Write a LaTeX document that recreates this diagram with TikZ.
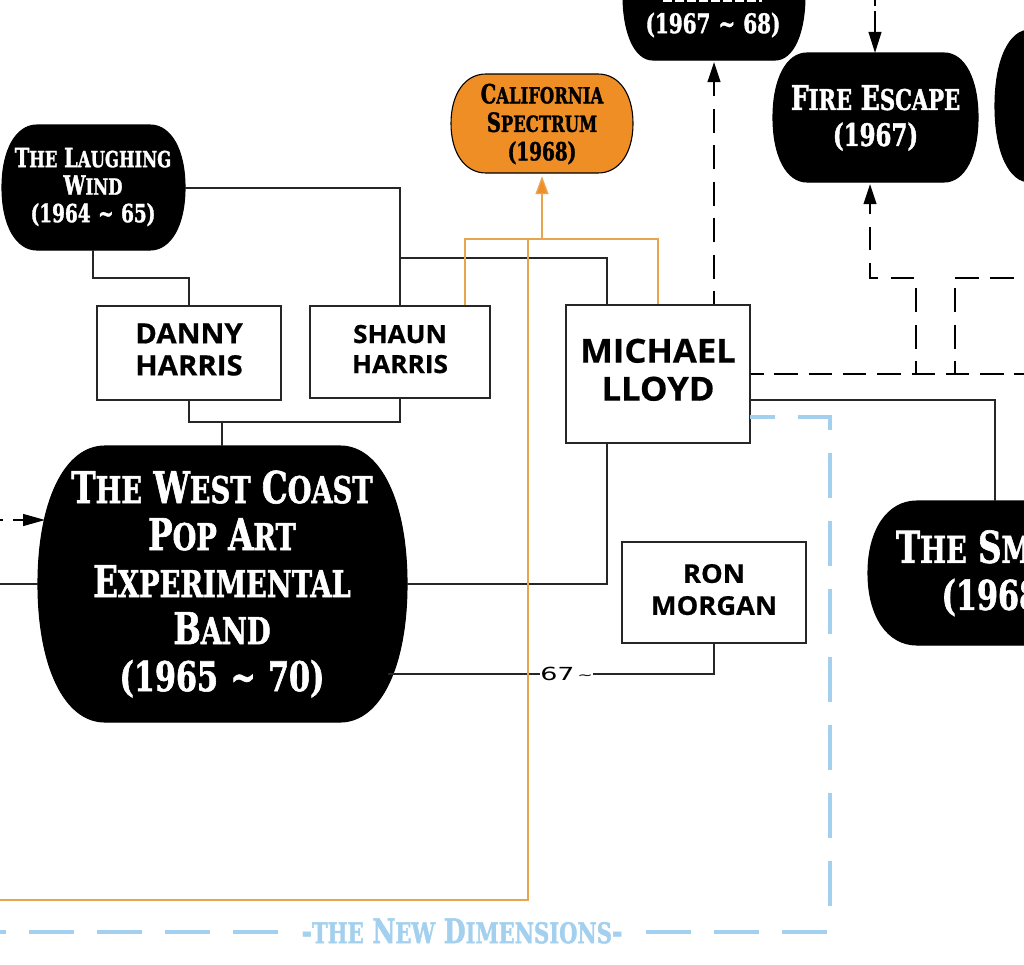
\documentclass[tikz,border=0pt]{standalone}
\usepackage{fontspec}
\usetikzlibrary{arrows.meta,calc}
\newfontfamily\slab{DejaVu Serif Condensed Bold}[FakeStretch=0.82,FakeBold=1.4]
\newfontfamily\slabS{DejaVu Serif Condensed Bold}[FakeStretch=0.82,FakeBold=1.4,Scale=0.84]
\newfontfamily\comicf{Open Sans}[FakeStretch=1.05,FakeBold=0.6]
\newcommand\comic{\comicf\bfseries}
\newfontfamily\tagf{DejaVu Sans}[FakeStretch=1.5]
\newcommand\Sc[2]{#1{\slabS #2}}
\newcommand\tl{\hspace{.3em}{\char"7E}\hspace{.3em}}
\newcommand\lift[2]{\raisebox{#1}{\begin{tabular}{@{}c@{}}#2\end{tabular}}}
\newcommand\sz[2]{\fontsize{#1}{#2}\selectfont}
\definecolor{orangeline}{HTML}{E8A44F}
\definecolor{orangefill}{HTML}{EE8E25}
\definecolor{blueline}{HTML}{A3D0EE}
\tikzset{
  wire/.style={draw=black!85,line width=1.2pt},
  dashwire/.style={draw=black,line width=1.2pt,dash pattern=on 24pt off 12.5pt},
  dashtip/.style={-{Triangle[length=20pt,width=13pt]},shorten >=2pt},
  orangewire/.style={draw=orangeline,line width=1.4pt},
  bluewire/.style={draw=blueline,line width=3.6pt,dash pattern=on 45pt off 23pt},
  person/.style={draw=black!85,line width=1.1pt,fill=white,inner sep=0pt,align=center,font=\comic},
  bandtext/.style={inner sep=0pt,align=center,text=white,font=\slab},
}
% \blob{name}{x0}{y0}{x1}{y1}{a}{fill}{outline}
\newcommand\blob[8]{%
  \path[fill=#7,draw=#8,line width=1.1pt] (#2+#6,#3) -- (#4-#6,#3)
    .. controls (#4-0.4*#6,#3) and (#4,#3+0.2*#5-0.2*#3) .. (#4,#3/2+#5/2)
    .. controls (#4,#5-0.2*#5+0.2*#3) and (#4-0.4*#6,#5) .. (#4-#6,#5)
    -- (#2+#6,#5)
    .. controls (#2+0.4*#6,#5) and (#2,#5-0.2*#5+0.2*#3) .. (#2,#3/2+#5/2)
    .. controls (#2,#3+0.2*#5-0.2*#3) and (#2+0.4*#6,#3) .. (#2+#6,#3) -- cycle;
  \node[inner sep=0pt,minimum width=#4pt-#2pt,minimum height=#5pt-#3pt] (#1) at (#2/2+#4/2,#3/2+#5/2) {};
}
\begin{document}
\begin{tikzpicture}[x=1pt,y=-1pt]
\useasboundingbox (0,0) rectangle (1024,964);
\clip (0,0) rectangle (1024,964);
\fill[white] (0,0) rectangle (1024,964);

% people
\node[person,minimum width=184pt,minimum height=94pt,font=\comic\sz{28}{32}] (danny) at (189,353) {\lift{8pt}{DANNY\\HARRIS}};
\node[person,minimum width=180pt,minimum height=92pt,font=\comic\sz{25}{30}] (shaun) at (400,352) {\lift{4pt}{SHAUN\\HARRIS}};
\node[person,minimum width=184pt,minimum height=138pt,font=\comic\sz{33}{38}] (michael) at (658,374) {\lift{8pt}{MICHAEL\\LLOYD}};
\node[person,minimum width=184pt,minimum height=101pt,font=\comic\sz{26}{32}] (ron) at (714,592.5) {\lift{6pt}{RON\\MORGAN}};

% bands
\blob{wind}{2}{125}{185}{250}{35}{black}{black}
\blob{big}{38}{446}{407}{722}{67}{black}{black}
\blob{fire}{773}{53}{978}{182}{34}{black}{black}
\blob{top}{623}{-70}{805}{60}{30}{black}{black}
\blob{smoke}{868}{501}{1140}{645}{49}{black}{black}
\blob{right}{995}{30}{1200}{182}{35}{black}{black}
\blob{cali}{451}{74}{633}{173}{35}{orangefill}{black}
\draw[white,line width=3pt,dash pattern=on 9pt off 3pt] (663,0.5) -- (762,0.5);

\node[bandtext,font=\slab\sz{26.5}{27.5}] (windtext) at (93,187) {\Sc{T}{HE} \Sc{L}{AUGHING}\\\Sc{W}{IND}\\{\sz{25}{27.5}(1964\tl 65)}};
\node[bandtext,font=\slab\sz{44}{47}] (bigtext) at (222,584) {\Sc{T}{HE} \Sc{W}{EST} \Sc{C}{OAST}\\\Sc{P}{OP} \Sc{A}{RT}\\\Sc{E}{XPERIMENTAL}\\\Sc{B}{AND}\\{\sz{41}{47}(1965\tl 70)}};
\node[bandtext,font=\slab\sz{34}{36}] (firetext) at (875.5,118) {\Sc{F}{IRE} \Sc{E}{SCAPE}\\{\sz{31}{36}(1967)}};
\node[bandtext,font=\slab\sz{27}{28}] (toptext) at (713,25) {(1967\tl 68)};
\node[bandtext,font=\slab\sz{44}{47},anchor=north] (smoketext) at (998,530) {\Sc{T}{HE} \Sc{S}{MOKE}\\{\sz{41}{47}(1968)}};
\node[bandtext,text=black,font=\slab\sz{26.5}{28.5}] (calitext) at (542,124) {\Sc{C}{ALIFORNIA}\\\Sc{S}{PECTRUM}\\{\sz{25}{28.5}(1968)}};

% junctions
\coordinate (j1) at (shaun.north |- 0,258);
\coordinate (j2) at (222,422);

% black wires
\draw[wire] (wind.east |- 0,188) -| (shaun.north);
\draw[wire] (j1) -| ([xshift=-51pt]michael.north);
\draw[wire] (wind.south -| 93,0) |- (189,278) -- (danny.north);
\draw[wire] (danny.south) |- (j2) -| (shaun.south);
\draw[wire] (j2) -- (big.north -| j2);
\draw[wire] ([xshift=-51pt]michael.south) |- (big.east |- 0,584);
\coordinate (leftin) at (0,584);
\draw[wire] (leftin) -- (big.west |- leftin);
\coordinate (bigout) at (388,674);
\draw[wire] (bigout) -| (ron.south);
\draw[wire] (michael.east |- 0,400) -| (smoke.north -| 995,0);

% orange wires
\coordinate (oj) at (542,239);
\coordinate (ol) at (0,900);
\draw[orangewire] ([xshift=65pt]shaun.north) |- (oj) -| (michael.north);
\draw[orangewire,-{Triangle[length=18pt,width=13pt,fill=orangefill]}] (oj) -- ([yshift=-3pt]cali.south);
\draw[orangewire] (528,239) -- (528,900) -- (ol);

% label on the wire
\node[fill=white,inner sep=0pt,minimum width=51pt,minimum height=16pt,font=\tagf\sz{18}{18}] (since) at (566.5,674) {67\,\raisebox{1pt}{\sz{12}{12}\char"7E}};

% dashed wires
\coordinate (d1) at (916,374);
\coordinate (d2) at (955,374);
\coordinate (dcorner) at (870,278);
\coordinate (dleftend) at (914,278);
\coordinate (dright) at (1024,278);
\coordinate (drightstart) at (955,278);
\coordinate (dtop) at (875,0);
\coordinate (dleft) at (0,520);
\coordinate (dbig) at (45,520);
\draw[dashwire,dash pattern=on 23.5pt off 10.8pt,dash phase=10.5pt] (michael.east |- 0,374) -- (1024,374);
\draw[dashwire,dash phase=11pt] (d1) -- (916,288);
\draw[dashwire,dash phase=11pt] (d2) -- (955,288);
\draw[dashwire,dash pattern=on 23.5pt off 11.5pt] (drightstart) -- (dright);
\draw[dashwire,dashtip,dash pattern=on 23pt off 13pt] (dleftend) -- (dcorner) -- (fire.south -| dcorner);
\draw[dashwire,dashtip,dash phase=11pt] (michael.north -| 714,0) -- (top.south);
\draw[dashwire,-{Triangle[length=21pt,width=13pt]},dash pattern=on 6pt off 5pt on 40pt off 10pt] (dtop) -- (fire.north -| dtop);
\draw[dashwire,-{Triangle[length=22pt,width=12pt]},dash pattern=on 3pt off 10pt on 40pt off 10pt] (dleft) -- (dbig);

% blue frame
\coordinate (b0) at (750,417);
\coordinate (b1) at (830,417);
\coordinate (b2) at (830,932);
\coordinate (b3) at (0,932);
\node[text=blueline,inner sep=0pt,font=\slab\sz{34}{34}] (dim) at (462,931) {-{\slabS THE} \Sc{N}{EW} \Sc{D}{IMENSIONS}-};
\draw[bluewire,dash phase=20pt] (b0) -- (b1) -- ([yshift=8pt]b2);
\draw[bluewire,dash phase=45pt] (dim.east |- b2) -- (b2);
\draw[bluewire,dash phase=45pt] (dim.west |- b3) -- (b3);
\end{tikzpicture}
\end{document}
